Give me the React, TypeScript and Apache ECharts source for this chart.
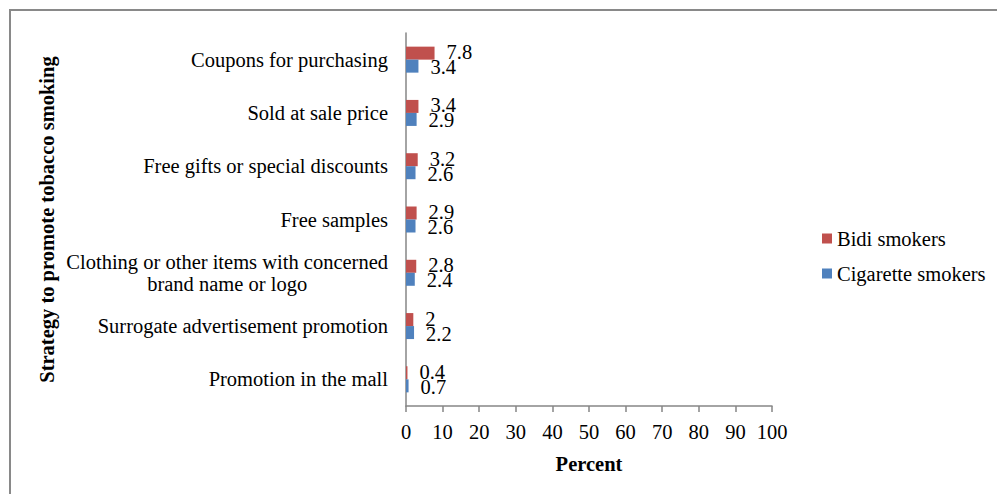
import React, { useEffect, useRef } from "react";
import * as echarts from "echarts";

const categories = [
  "Coupons for purchasing",
  "Sold at sale price",
  "Free gifts or special discounts",
  "Free samples",
  "Clothing or other items with concerned\nbrand name or logo",
  "Surrogate advertisement promotion",
  "Promotion in the mall",
];
const bidiSmokers = [7.8, 3.4, 3.2, 2.9, 2.8, 2, 0.4];
const cigaretteSmokers = [3.4, 2.9, 2.6, 2.6, 2.4, 2.2, 0.7];
const seriesNames = ["Bidi smokers", "Cigarette smokers"];
const xTicks = { min: 0, max: 100, interval: 10 };

const FONT = "Liberation Serif";
const FS = 20.5;
const AXIS_COLOR = "#868686";

export default function App() {
  const ref = useRef<HTMLDivElement>(null);

  useEffect(() => {
    if (!ref.current) return;
    const chart = echarts.init(ref.current, null, { renderer: "svg" });

    const labelStyle = {
      show: true,
      position: "right" as const,
      distance: 12,
      fontFamily: FONT,
      fontSize: FS,
      color: "#000",
    };

    chart.setOption({
      animation: false,
      backgroundColor: "#fff",
      textStyle: { fontFamily: FONT },
      grid: { left: 406, right: 225, top: 33, bottom: 88, containLabel: false },
      legend: {
        orient: "vertical",
        left: 817,
        top: 223,
        itemWidth: 10,
        itemHeight: 10,
        itemGap: 14,
        icon: "rect",
        data: seriesNames,
        textStyle: { fontFamily: FONT, fontSize: FS, color: "#000" },
      },
      xAxis: {
        type: "value",
        min: xTicks.min,
        max: xTicks.max,
        interval: xTicks.interval,
        name: "Percent",
        nameLocation: "middle",
        nameGap: 47,
        nameTextStyle: { fontFamily: FONT, fontSize: FS, fontWeight: "bold", color: "#000" },
        axisLine: { show: true, lineStyle: { color: AXIS_COLOR, width: 1.5 } },
        axisTick: { show: true, length: 6, lineStyle: { color: AXIS_COLOR, width: 1.5 } },
        axisLabel: { fontFamily: FONT, fontSize: FS, color: "#000", margin: 15 },
        splitLine: { show: false },
      },
      yAxis: {
        type: "category",
        inverse: true,
        data: categories,
        name: "Strategy to promote tobacco smoking",
        nameLocation: "middle",
        nameGap: 349,
        nameTextStyle: { fontFamily: FONT, fontSize: FS, fontWeight: "bold", color: "#000" },
        axisLine: { show: true, lineStyle: { color: AXIS_COLOR, width: 1.5 } },
        axisTick: { show: false },
        axisLabel: {
          fontFamily: FONT,
          fontSize: FS,
          color: "#000",
          margin: 18,
          lineHeight: 22,
          formatter: (v: string) =>
            v
              .split("\n")
              .map((line) => `{c|${line}}`)
              .join("\n"),
          rich: {
            c: { fontFamily: FONT, fontSize: FS, color: "#000", align: "center", lineHeight: 22 },
          },
        },
      },
      series: [
        {
          name: seriesNames[0],
          type: "bar",
          data: bidiSmokers,
          barWidth: 13,
          barGap: "0%",
          itemStyle: { color: "#C0504D" },
          label: { ...labelStyle, offset: [0, -1] },
        },
        {
          name: seriesNames[1],
          type: "bar",
          data: cigaretteSmokers,
          barWidth: 13,
          barGap: "0%",
          itemStyle: { color: "#4F81BD" },
          label: { ...labelStyle, offset: [0, 1] },
        },
      ],
      graphic: [
        {
          type: "line",
          shape: { x1: 9, y1: 10, x2: 997, y2: 10 },
          style: { stroke: "#898989", lineWidth: 2 },
        },
        {
          type: "line",
          shape: { x1: 10, y1: 9, x2: 10, y2: 494 },
          style: { stroke: "#898989", lineWidth: 2 },
        },
      ],
    });

    return () => chart.dispose();
  }, []);

  return (
    <div
      ref={ref}
      style={{ position: "fixed", left: 0, top: 0, width: 997, height: 494, background: "#fff" }}
    />
  );
}
